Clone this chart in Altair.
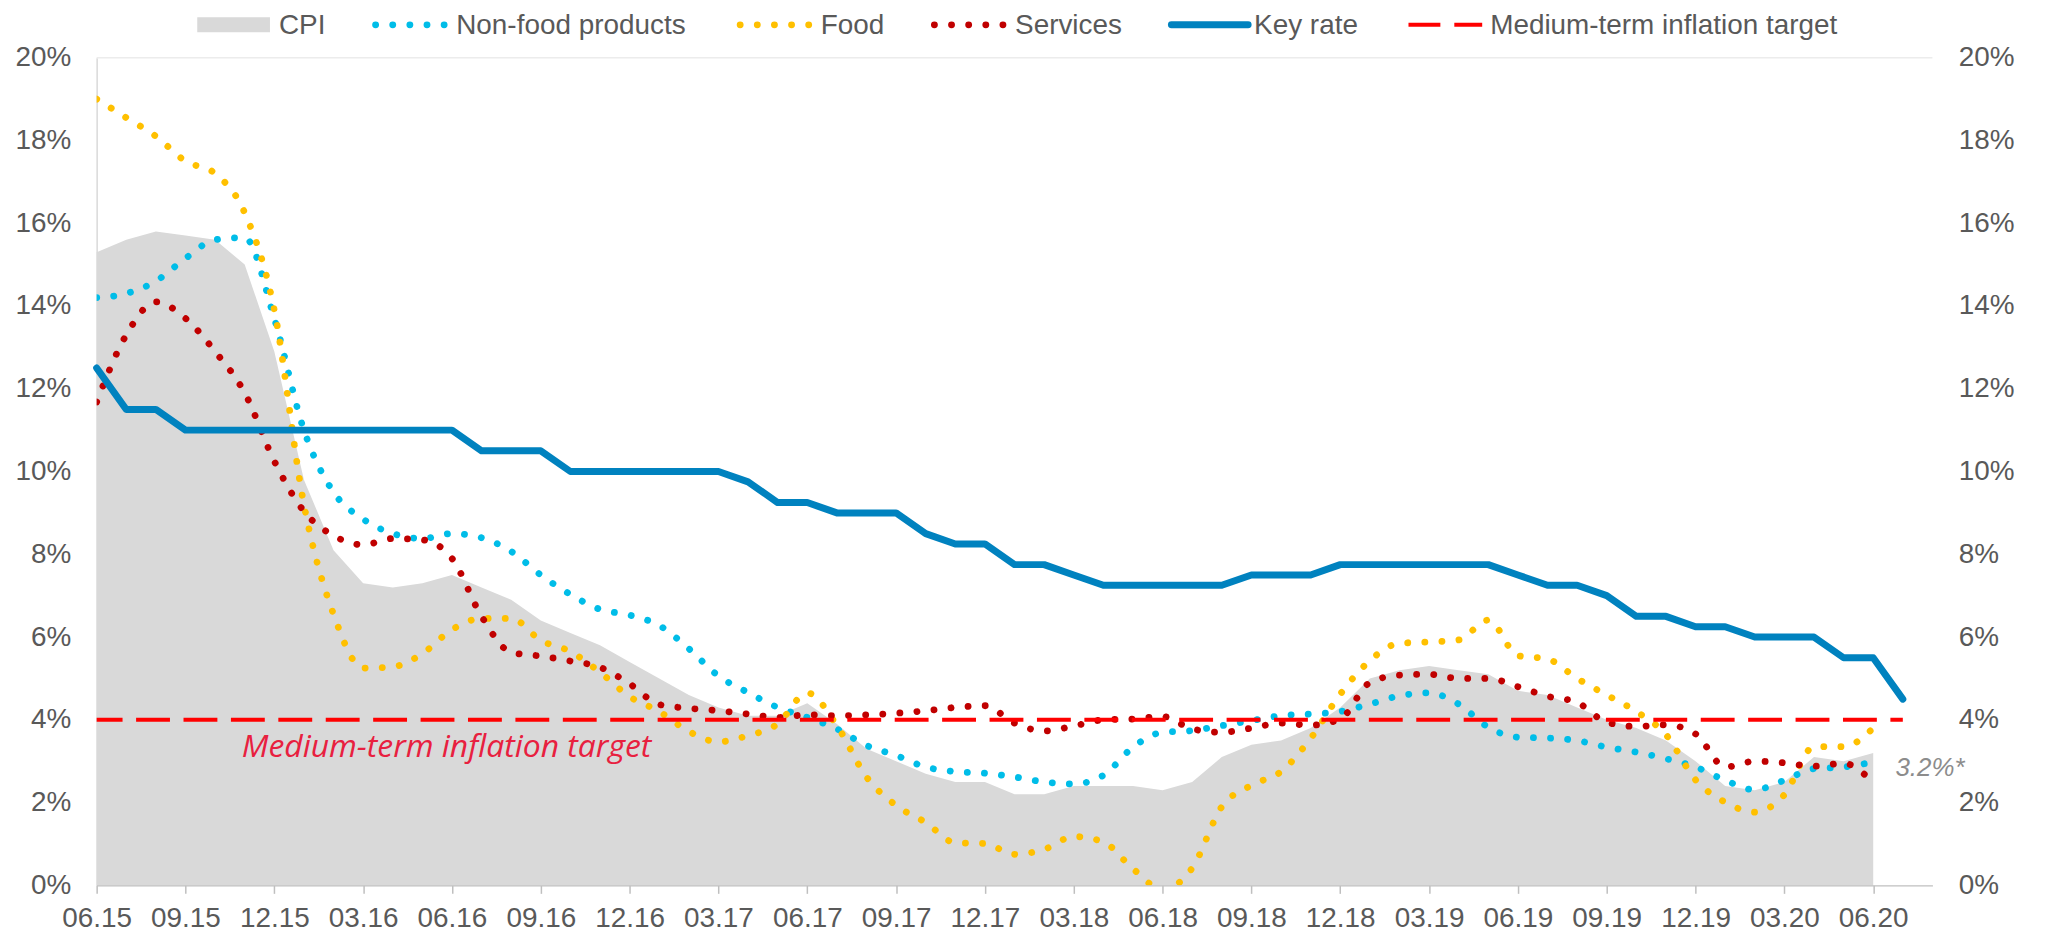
import json
import altair as alt
import pandas as pd

# ---- categories: months 06.15 ... 07.20 ----
start_year, start_month = 2015, 6
month_labels = []
for k in range(62):
    mm = (start_month - 1 + k) % 12 + 1
    yy = start_year + (start_month - 1 + k) // 12
    month_labels.append(f"{mm:02d}.{yy % 100:02d}")

# ---- series values (% y/y) ----
cpi = [15.3, 15.6, 15.8, 15.7, 15.6, 15.0, 12.9, 9.8, 8.1, 7.3,
       7.2, 7.3, 7.5, 7.2, 6.9, 6.4, 6.1, 5.8, 5.4, 5.0,
       4.6, 4.3, 4.1, 4.1, 4.4, 3.9, 3.3, 3.0, 2.7, 2.5,
       2.5, 2.2, 2.2, 2.4, 2.4, 2.4, 2.3, 2.5, 3.1, 3.4,
       3.5, 3.8, 4.3, 5.0, 5.2, 5.3, 5.2, 5.1, 4.7, 4.6,
       4.3, 4.0, 3.8, 3.5, 3.0, 2.4, 2.3, 2.5, 3.1, 3.0, 3.2]

non_food = [14.2, 14.3, 14.6, 15.15, 15.6, 15.65, 13.7, 11.0, 9.5, 8.85,
            8.5, 8.38, 8.5, 8.4, 8.07, 7.5, 7.03, 6.67, 6.53, 6.28,
            5.72, 5.06, 4.66, 4.3, 4.06, 3.78, 3.38, 3.14, 2.86, 2.75,
            2.71, 2.62, 2.5, 2.45, 2.66, 3.34, 3.7, 3.74, 3.86, 3.98,
            4.1, 4.14, 4.2, 4.38, 4.58, 4.65, 4.38, 3.82, 3.58, 3.56,
            3.5, 3.34, 3.22, 3.06, 2.86, 2.54, 2.31, 2.54, 2.82, 2.86, 2.98]

food = [19.0, 18.55, 18.1, 17.5, 17.2, 16.25, 13.9, 9.2, 6.55, 5.25,
        5.28, 5.6, 6.18, 6.45, 6.45, 5.92, 5.65, 5.15, 4.56, 4.2,
        3.72, 3.47, 3.62, 3.9, 4.65, 3.86, 2.62, 1.93, 1.52, 1.03,
        1.01, 0.75, 0.87, 1.18, 1.05, 0.4, -0.1, 0.42, 1.9, 2.42,
        2.75, 3.55, 4.62, 5.43, 5.85, 5.88, 5.93, 6.41, 5.55, 5.47,
        5.0, 4.6, 4.2, 3.64, 2.55, 2.01, 1.77, 2.19, 3.35, 3.35, 3.8]

services = [11.68, 13.3, 14.1, 13.7, 12.9, 11.9, 10.25, 9.04, 8.45, 8.23,
            8.38, 8.35, 7.9, 6.5, 5.63, 5.54, 5.42, 5.27, 4.87, 4.37,
            4.28, 4.22, 4.14, 4.06, 4.12, 4.1, 4.12, 4.16, 4.22, 4.3,
            4.34, 3.92, 3.73, 3.85, 4.0, 4.02, 4.08, 3.78, 3.7, 3.8,
            3.92, 3.87, 4.02, 4.9, 5.08, 5.1, 5.0, 5.0, 4.8, 4.57,
            4.42, 3.94, 3.84, 3.88, 3.66, 2.86, 3.0, 2.96, 2.88, 2.95, 2.48]

key_rate = [12.5, 11.5, 11.5, 11.0, 11.0, 11.0, 11.0, 11.0, 11.0, 11.0,
            11.0, 11.0, 11.0, 10.5, 10.5, 10.5, 10.0, 10.0, 10.0, 10.0,
            10.0, 10.0, 9.75, 9.25, 9.25, 9.0, 9.0, 9.0, 8.5, 8.25,
            8.25, 7.75, 7.75, 7.5, 7.25, 7.25, 7.25, 7.25, 7.25, 7.5,
            7.5, 7.5, 7.75, 7.75, 7.75, 7.75, 7.75, 7.75, 7.5, 7.25,
            7.25, 7.0, 6.5, 6.5, 6.25, 6.25, 6.0, 6.0, 6.0, 5.5, 5.5, 4.5]

target_value = 4.0
target_label = "Medium-term inflation target"
cpi_last_label = "3.2%*"
series_names = ["CPI", "Non-food products", "Food", "Services", "Key rate",
                "Medium-term inflation target"]


def frame(values):
    return pd.DataFrame({"i": list(range(len(values))),
                         "month": month_labels[:len(values)],
                         "v": values})


df_cpi = frame(cpi)
df_nonfood = frame(non_food)
df_food = frame(food)
df_services = frame(services)
df_key = frame(key_rate)
df_target = pd.DataFrame({"i": [0], "i2": [len(key_rate) - 1], "v": [target_value]})
df_top = pd.DataFrame({"v": [20]})
df_ann_target = pd.DataFrame({"i": [4.9], "v": [3.1], "label": [target_label]})
df_ann_cpi = pd.DataFrame({"i": [len(cpi) - 1 + 0.75], "v": [2.65], "label": [cpi_last_label]})

FONT = "Liberation Sans"
TXT = "#595959"
FS = 28

xscale = alt.Scale(domain=[0, 62], nice=False, zero=False)
yscale = alt.Scale(domain=[0, 20], nice=False, zero=True)

x_axis = alt.Axis(values=list(range(0, 61, 3)),
                  labelExpr="join(slice(" + json.dumps(month_labels) + ", datum.value, datum.value + 1), '')",
                  title=None, grid=False, domainColor="#bfbfbf", domainWidth=1.5,
                  tickColor="#bfbfbf", tickSize=8, tickWidth=1.5,
                  labelFontSize=FS, labelColor=TXT, labelFont=FONT,
                  labelPadding=11, labelFlush=False, labelOverlap=False,
                  zindex=1)

x_main = alt.X("i:Q", scale=xscale, axis=x_axis)

y_left = alt.Y("v:Q", scale=yscale,
               axis=alt.Axis(orient="left", values=list(range(0, 21, 2)),
                             labelExpr="datum.value + '%'", title=None, grid=False,
                             ticks=False, domain=True, domainColor="#d9d9d9",
                             domainWidth=1.5,
                             labelFontSize=FS, labelColor=TXT, labelFont=FONT,
                             labelPadding=26))
y_right = alt.Y("v:Q", scale=yscale,
                axis=alt.Axis(orient="right", values=list(range(0, 21, 2)),
                              labelExpr="datum.value + '%'", title=None, grid=False,
                              ticks=False, domain=False,
                              labelFontSize=FS, labelColor=TXT, labelFont=FONT,
                              labelPadding=26))
y_plain = alt.Y("v:Q", scale=yscale, axis=None)

DOT = dict(strokeDash=[0.1, 17.1], strokeCap="round", strokeWidth=6.8,
           interpolate="monotone", clip=True)

area = alt.Chart(df_cpi).mark_area(color="#d9d9d9", interpolate="linear").encode(
    x=x_main, y=y_left)

top_rule = alt.Chart(df_top).mark_rule(color="#ececec", strokeWidth=1.5).encode(y=y_plain)

l_nonfood = alt.Chart(df_nonfood).mark_line(color="#00bde8", **DOT).encode(x=x_main, y=y_plain)
l_food = alt.Chart(df_food).mark_line(color="#ffc000", **DOT).encode(x=x_main, y=y_plain)
l_services = alt.Chart(df_services).mark_line(color="#c00000", **DOT).encode(x=x_main, y=y_plain)

l_key = alt.Chart(df_key).mark_line(color="#0082bf", strokeWidth=7, strokeCap="round",
                                    strokeJoin="round").encode(x=x_main, y=y_right)

target = alt.Chart(df_target).mark_rule(color="#ff0000", strokeWidth=4,
                                        strokeDash=[34, 13.6], strokeDashOffset=8).encode(
    x=x_main, x2="i2:Q", y=y_plain)

ann_target = alt.Chart(df_ann_target).mark_text(
    font="Open Sans", fontStyle="italic", fontSize=32, color="#e8203f",
    align="left", baseline="alphabetic").encode(x=x_main, y=y_plain, text="label:N")

ann_cpi = alt.Chart(df_ann_cpi).mark_text(
    font=FONT, fontStyle="italic", fontSize=26, color="#8c8c8c",
    align="left", baseline="alphabetic").encode(x=x_main, y=y_plain, text="label:N")

# ---- legend (drawn above the plot area) ----
LY = -33
LT = -23.5
leg_layers = []
leg_text_x = [183, 361, 727, 922, 1162, 1399]
for name, tx in zip(series_names, leg_text_x):
    leg_layers.append(
        alt.Chart(pd.DataFrame({"label": [name]})).mark_text(
            font=FONT, fontSize=28, color=TXT, align="left", baseline="alphabetic"
        ).encode(x=alt.value(tx), y=alt.value(LT), text="label:N"))

one = pd.DataFrame({"label": ["k"]})
leg_layers.append(alt.Chart(one).mark_rect(color="#d9d9d9").encode(
    x=alt.value(101), x2=alt.value(174), y=alt.value(LY - 7.5), y2=alt.value(LY + 7.5)))
for x0, col in [(280, "#00bde8"), (646, "#ffc000"), (841, "#c00000")]:
    leg_layers.append(alt.Chart(one).mark_rule(
        color=col, strokeDash=[0.1, 17.1], strokeCap="round", strokeWidth=6.8).encode(
        x=alt.value(x0), x2=alt.value(x0 + 69), y=alt.value(LY)))
leg_layers.append(alt.Chart(one).mark_rule(color="#0082bf", strokeWidth=7, strokeCap="round").encode(
    x=alt.value(1079), x2=alt.value(1156), y=alt.value(LY)))
leg_layers.append(alt.Chart(one).mark_rule(color="#ff0000", strokeWidth=4, strokeDash=[32, 14]).encode(
    x=alt.value(1317), x2=alt.value(1391), y=alt.value(LY)))

chart = alt.layer(
    area, top_rule, l_nonfood, l_food, l_services, l_key, target, ann_target, ann_cpi,
    *leg_layers
).resolve_axis(y="independent").properties(
    width=1843, height=831,
    autosize=alt.AutoSizeParams(type="none"),
    padding={"left": 89, "top": 48, "right": 109, "bottom": 50},
).configure_view(stroke=None)

chart.save("out.html", embed_options={"renderer": "svg", "actions": False})
